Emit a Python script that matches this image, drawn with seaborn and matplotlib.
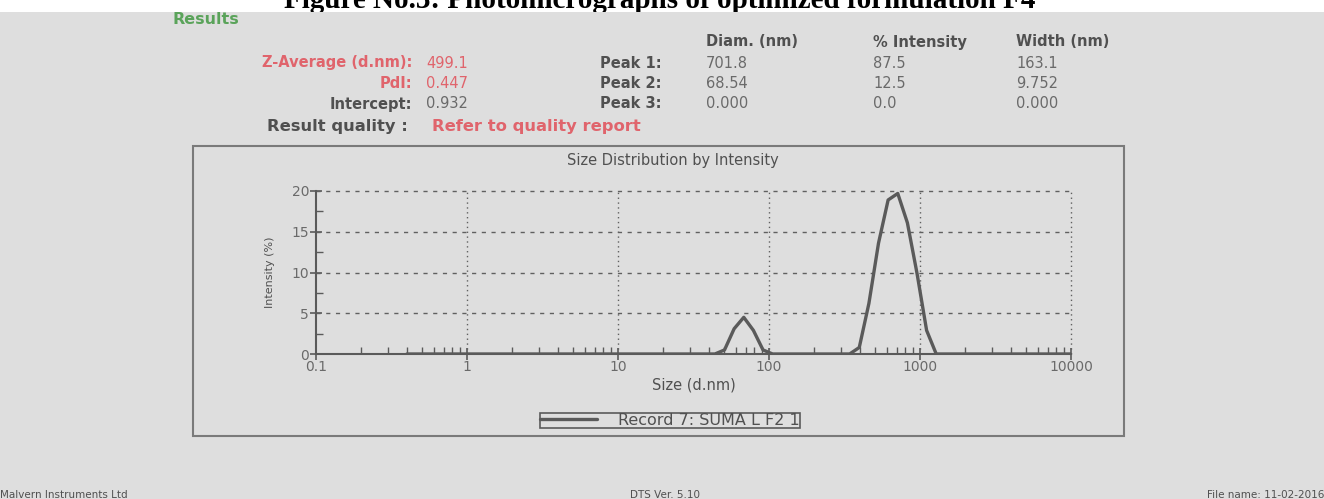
import numpy as np
import pandas as pd
import seaborn as sns
import matplotlib.pyplot as plt
from matplotlib.patches import Rectangle
from matplotlib.ticker import MultipleLocator, LogLocator, FixedLocator

W, H = 1324, 499

# size distribution (d.nm) and intensity (%)
size_nm = [0.4, 43.82, 50.75, 58.77, 68.06, 78.82, 91.28, 105.7,
           342.0, 396.1, 458.7, 531.2, 615.1, 712.4, 825.0, 955.4, 1106.0, 1281.0, 10000.0]
intensity = [0.0, 0.0, 0.5, 3.1, 4.5, 2.9, 0.5, 0.0,
             0.0, 0.8, 6.2, 13.6, 18.9, 19.7, 16.1, 9.9, 2.9, 0.0, 0.0]

peak_names = ["Peak 1:", "Peak 2:", "Peak 3:"]
peak_diam = ["701.8", "68.54", "0.000"]
peak_intensity = ["87.5", "12.5", "0.0"]
peak_width = ["163.1", "9.752", "0.000"]

df = pd.DataFrame({"Size (d.nm)": size_nm, "Intensity (%)": intensity})

sns.set_style("ticks")
plt.rcParams['font.family'] = ['DejaVu Sans']

BG = '#dedede'
RED = '#e0646c'
GREEN = '#5aa35a'
DARK = '#505050'
GREY = '#6a6a6a'
LINE = '#5a5a5a'
FS = 10.5  # header text size


def px(x, y):
    return x / W, 1 - y / H


fig = plt.figure(figsize=(W / 100, H / 100), dpi=100)
fig.patch.set_facecolor('white')

# grey report panel
fig.patches.append(Rectangle((0, 0), 1, 1 - 12 / H, transform=fig.transFigure,
                             facecolor=BG, edgecolor='none', zorder=0.5))

# caption at the very top (cut by the page edge in the source)
fig.text(*px(660, 7.5), "Figure No.3: Photomicrographs of optimized formulation F4",
         ha='center', va='baseline', fontsize=21, fontweight='bold',
         family='Liberation Serif', color='black', zorder=0.2)

# header block
fig.text(*px(173, 19), "Results", ha='left', va='center', fontsize=11.5,
         fontweight='bold', color=GREEN, zorder=3)
fig.text(*px(412, 63), "Z-Average (d.nm):", ha='right', va='center', fontsize=FS,
         fontweight='bold', color=RED, zorder=3)
fig.text(*px(426, 63), "499.1", ha='left', va='center', fontsize=FS, color=RED, zorder=3)
fig.text(*px(412, 84), "PdI:", ha='right', va='center', fontsize=FS,
         fontweight='bold', color=RED, zorder=3)
fig.text(*px(426, 84), "0.447", ha='left', va='center', fontsize=FS, color=RED, zorder=3)
fig.text(*px(412, 104), "Intercept:", ha='right', va='center', fontsize=FS,
         fontweight='bold', color=DARK, zorder=3)
fig.text(*px(426, 104), "0.932", ha='left', va='center', fontsize=FS, color=GREY, zorder=3)
fig.text(*px(408, 127), "Result quality :", ha='right', va='center', fontsize=11.8,
         fontweight='bold', color=DARK, zorder=3)
fig.text(*px(432, 127), "Refer to quality report", ha='left', va='center', fontsize=11.8,
         fontweight='bold', color=RED, zorder=3)

col_x = [706, 873, 1016]
for x, head in zip(col_x, ["Diam. (nm)", "% Intensity", "Width (nm)"]):
    fig.text(*px(x, 42), head, ha='left', va='center', fontsize=FS,
             fontweight='bold', color=DARK, zorder=3)
for i, name in enumerate(peak_names):
    y = [63, 84, 104][i]
    fig.text(*px(662, y), name, ha='right', va='center', fontsize=FS,
             fontweight='bold', color=DARK, zorder=3)
    for x, val in zip(col_x, [peak_diam[i], peak_intensity[i], peak_width[i]]):
        fig.text(*px(x, y), val, ha='left', va='center', fontsize=FS, color=GREY, zorder=3)

# chart frame
fig.patches.append(Rectangle(px(193, 436), 931 / W, 290 / H, transform=fig.transFigure,
                             facecolor='none', edgecolor='#7a7a7a', lw=1.5, zorder=3))
fig.text(*px(673, 160), "Size Distribution by Intensity", ha='center', va='center',
         fontsize=10.5, color=DARK, zorder=3)

ax = fig.add_axes([316 / W, 1 - 354 / H, 755 / W, 163 / H])
ax.set_zorder(2)
ax.set_facecolor(BG)

sns.lineplot(data=df, x="Size (d.nm)", y="Intensity (%)", ax=ax, color=LINE,
             lw=2.4, sort=False, label="Record 7: SUMA L F2 1", legend=False, zorder=5)

ax.set_xscale('log')
ax.set_xlim(0.1, 10000)
ax.set_ylim(0, 20)
ax.xaxis.set_major_locator(FixedLocator([0.1, 1, 10, 100, 1000, 10000]))
ax.set_xticklabels(["0.1", "1", "10", "100", "1000", "10000"])
ax.xaxis.set_minor_locator(LogLocator(base=10, subs=np.arange(2, 10)))
ax.yaxis.set_major_locator(MultipleLocator(5))
ax.yaxis.set_minor_locator(MultipleLocator(2.5))

for s in ['top', 'right']:
    ax.spines[s].set_visible(False)
for s in ['left', 'bottom']:
    ax.spines[s].set_color('#5a5a5a')
    ax.spines[s].set_linewidth(1.5)

ax.tick_params(axis='both', which='major', direction='inout', length=8, width=1.2,
               color='#5a5a5a', labelcolor=GREY, labelsize=10)
ax.tick_params(axis='both', which='minor', direction='in', length=5, width=1,
               color='#5a5a5a')
ax.tick_params(axis='x', which='major', pad=0)
ax.tick_params(axis='y', which='major', pad=1)

ax.grid(False)
for yv in [5, 10, 15, 20]:
    ax.axhline(yv, color='#606060', lw=1, ls=(0, (3, 4)), clip_on=False, zorder=1)
for xv in [1, 10, 100, 1000, 10000]:
    ax.axvline(xv, color='#606060', lw=1, ls=(0, (1, 2.5)), clip_on=False, zorder=1)

ax.set_xlabel("Size (d.nm)", fontsize=10.5, color=DARK, labelpad=3)
ax.set_ylabel("Intensity (%)", fontsize=8, color=DARK, labelpad=12)

handles, labels = ax.get_legend_handles_labels()
leg = fig.legend(handles, labels, loc='center', bbox_to_anchor=px(670, 420.5),
                 fontsize=11.5, frameon=True, fancybox=False, framealpha=1,
                 facecolor=BG, edgecolor='#5a5a5a', handlelength=3.6,
                 handletextpad=1.3, borderpad=0.0, borderaxespad=0)
leg.get_frame().set_linewidth(1.2)
for t in leg.get_texts():
    t.set_color(DARK)
leg.set_zorder(4)

# footer (sits on the bottom edge in the source)
fig.text(*px(0, 495), "Malvern Instruments Ltd", ha='left', va='center', fontsize=7.5,
         color=DARK, zorder=3)
fig.text(*px(630, 495), "DTS Ver. 5.10", ha='left', va='center', fontsize=7.5,
         color=DARK, zorder=3)
fig.text(*px(1324, 495), "File name: 11-02-2016", ha='right', va='center', fontsize=7.5,
         color=DARK, zorder=3)

fig.savefig('out.png', dpi=100, facecolor=fig.get_facecolor())
